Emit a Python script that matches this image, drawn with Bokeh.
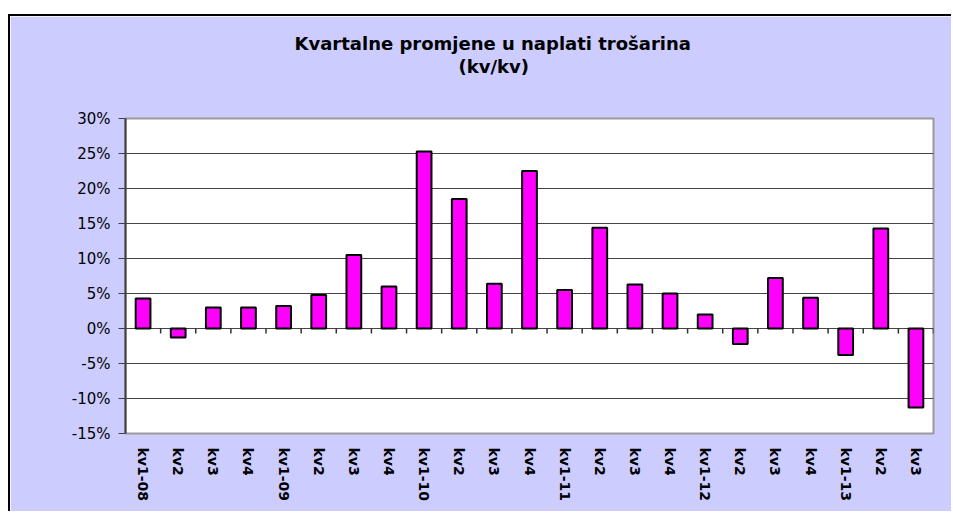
from bokeh.plotting import figure
from bokeh.models import (ColumnDataSource, FixedTicker, NumeralTickFormatter,
                          Range1d, Title, InlineStyleSheet)
from bokeh.embed import file_html
from bokeh.resources import INLINE

# ---- data ----
quarters = ["kv1-08", "kv2", "kv3", "kv4",
            "kv1-09", "kv2", "kv3", "kv4",
            "kv1-10", "kv2", "kv3", "kv4",
            "kv1-11", "kv2", "kv3", "kv4",
            "kv1-12", "kv2", "kv3", "kv4",
            "kv1-13", "kv2", "kv3"]
changes = [0.043, -0.013, 0.030, 0.030,
           0.032, 0.048, 0.105, 0.060,
           0.253, 0.185, 0.064, 0.225,
           0.055, 0.144, 0.063, 0.050,
           0.020, -0.022, 0.072, 0.044,
           -0.038, 0.143, -0.113]
y_ticks = [-0.15, -0.10, -0.05, 0.0, 0.05, 0.10, 0.15, 0.20, 0.25, 0.30]
title_line1 = "Kvartalne promjene u naplati trošarina"
title_line2 = "(kv/kv)"

n = len(quarters)
idx = list(range(n))
src = ColumnDataSource(data=dict(x=idx, top=changes))

BG = "#CCCCFF"

p = figure(width=943, height=497, output_backend="svg", toolbar_location=None,
           title=None,
           x_range=Range1d(-0.5, n - 0.5), y_range=Range1d(y_ticks[0], y_ticks[-1]),
           min_border_left=115, min_border_right=20, min_border_top=102,
           min_border_bottom=80)
p.border_fill_color = BG
p.background_fill_color = "white"
p.outline_line_color = "#999999"
p.outline_line_width = 2
p.margin = (14, 0, 0, 8)
p.stylesheets = [InlineStyleSheet(css=":host { border-left: 2px solid #000000; "
                                      "border-top: 2px solid #000000; }")]

# bars
p.vbar(x="x", top="top", bottom=0, width=0.42, source=src,
       fill_color="#FF00FF", line_color="#000000", line_width=2)

# category separator ticks on the zero line
sep = [i + 0.5 for i in idx]
p.segment(x0=sep, x1=sep, y0=[0.0] * n, y1=[-0.007] * n,
          line_color="#333333", line_width=1.5)

# y axis
p.yaxis.ticker = FixedTicker(ticks=y_ticks)
p.yaxis.formatter = NumeralTickFormatter(format="0%")
p.yaxis.axis_line_color = "#404040"
p.yaxis.axis_line_width = 2
p.yaxis.major_tick_line_color = "#404040"
p.yaxis.major_tick_out = 7
p.yaxis.major_tick_in = 0
p.yaxis.minor_tick_line_color = None
p.yaxis.major_label_text_font = "DejaVu Sans"
p.yaxis.major_label_text_font_size = "15px"
p.yaxis.major_label_text_color = "#000000"
p.yaxis.major_label_standoff = 8

# x axis
p.xaxis.ticker = FixedTicker(ticks=idx)
p.xaxis.major_label_overrides = {i: q for i, q in zip(idx, quarters)}
p.xaxis.major_label_orientation = "vertical"
p.xaxis.axis_line_color = None
p.xaxis.major_tick_line_color = None
p.xaxis.minor_tick_line_color = None
p.xaxis.major_label_text_font = "DejaVu Sans"
p.xaxis.major_label_text_font_style = "bold"
p.xaxis.major_label_text_font_size = "14px"
p.xaxis.major_label_text_color = "#000000"
p.xaxis.major_label_standoff = 8

# grid
p.xgrid.grid_line_color = None
p.ygrid.ticker = FixedTicker(ticks=y_ticks)
p.ygrid.grid_line_color = "#444444"
p.ygrid.grid_line_width = 1

# title (added bottom-up: spacer, line 2, line 1)
p.add_layout(Title(text=" ", text_font_size="26px", align="left"), "above")
p.add_layout(Title(text=title_line2, align="left", offset=333,
                   text_font="DejaVu Sans", text_font_style="bold",
                   text_font_size="18px", text_color="#000000", standoff=0), "above")
p.add_layout(Title(text=title_line1, align="left", offset=169,
                   text_font="DejaVu Sans", text_font_style="bold",
                   text_font_size="18px", text_color="#000000", standoff=0), "above")

open("out.html", "w").write(file_html(p, INLINE))
